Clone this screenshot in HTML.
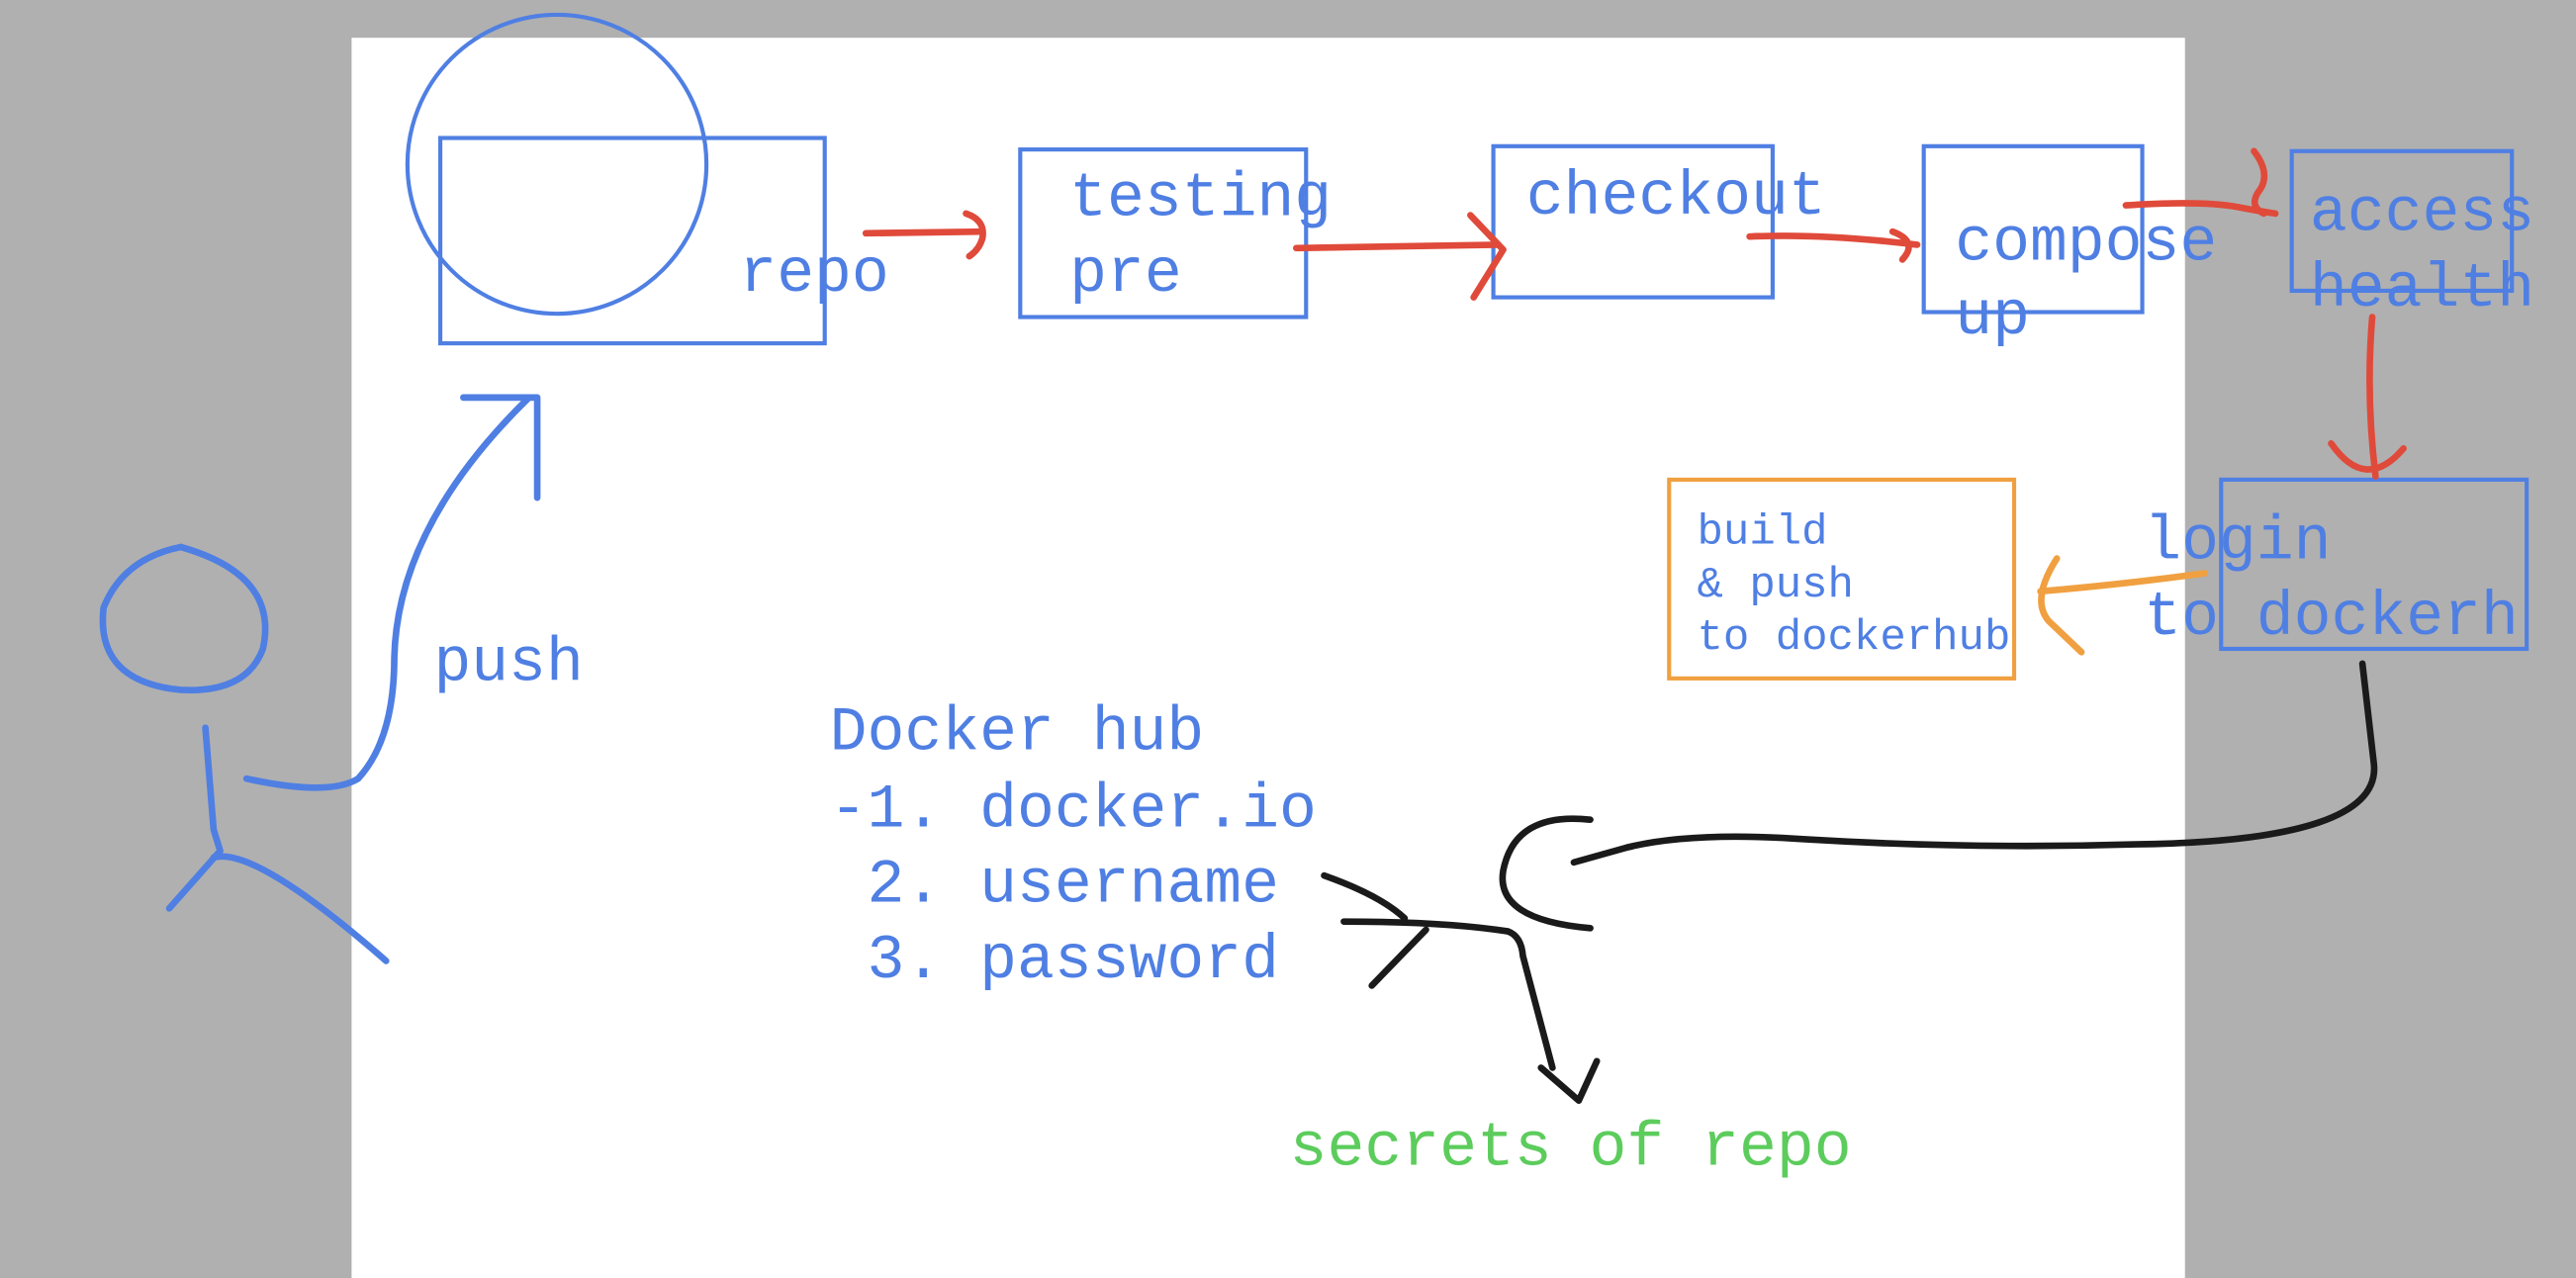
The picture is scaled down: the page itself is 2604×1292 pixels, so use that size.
<!DOCTYPE html>
<html><head><meta charset="utf-8"><style>
html,body{margin:0;padding:0;background:#b0b0b0;}
svg{display:block;}
text{font-family:"Liberation Mono",monospace;}
</style></head><body>
<svg width="2604" height="1292" viewBox="0 0 1568 778" xmlns="http://www.w3.org/2000/svg">
<rect x="0" y="0" width="1568" height="778" fill="#b0b0b0"/>
<rect x="214" y="23" width="1116" height="755" fill="#ffffff"/>
<g fill="none" stroke="#4f7fe3" stroke-width="2.5">
<circle cx="339" cy="100" r="91"/>
<rect x="268" y="84" width="234" height="125"/>
<rect x="621" y="91" width="174" height="102"/>
<rect x="909" y="89" width="170" height="92"/>
<rect x="1171" y="89" width="133" height="101"/>
<rect x="1395" y="92" width="134" height="85"/>
<rect x="1352" y="292" width="186" height="103"/>
</g>
<rect x="1016" y="292" width="210" height="121" fill="none" stroke="#f0a040" stroke-width="2.5"/>
<g fill="#4f7fe3" font-size="38">
<text x="450" y="177">repo</text>
<text x="651" y="131">testing</text>
<text x="651" y="177">pre</text>
<text x="929" y="130">checkout</text>
<text x="1190" y="158">compose</text>
<text x="1190" y="203">up</text>
<text x="1406" y="140">access</text>
<text x="1406" y="186">health</text>
<text x="1305" y="340">login</text>
<text x="1305" y="386">to dockerh</text>
<text x="264" y="414">push</text>
<text x="505" y="456">Docker hub</text>
<text x="505" y="503">-1. docker.io</text>
<text x="505" y="549" xml:space="preserve"> 2. username</text>
<text x="505" y="595" xml:space="preserve"> 3. password</text>
</g>
<g fill="#4f7fe3" font-size="26.5">
<text x="1033" y="331">build</text>
<text x="1033" y="363">&amp; push</text>
<text x="1033" y="395">to dockerhub</text>
</g>
<text x="785" y="709" font-size="38" fill="#5ccc5c">secrets of repo</text>
<g fill="none" stroke="#e04a3a" stroke-width="4" stroke-linecap="round" stroke-linejoin="round">
<path d="M527,142 L597,141"/>
<path d="M588,130 Q600,134 598,145 Q596,152 590,156"/>
<path d="M789,151 L912,149"/>
<path d="M895,131 L915,152 L897,181"/>
<path d="M1065,144 Q1110,142 1167,149"/>
<path d="M1152,141 Q1168,147 1158,158"/>
<path d="M1294,125 Q1340,122 1362,126 Q1372,128 1385,130"/>
<path d="M1372,92 Q1382,105 1376,115 Q1368,125 1378,130"/>
<path d="M1444,193 Q1440,240 1446,290"/>
<path d="M1419,270 Q1440,300 1463,273"/>
</g>
<g fill="none" stroke="#f0a040" stroke-width="4" stroke-linecap="round" stroke-linejoin="round">
<path d="M1342,349 Q1290,356 1242,360"/>
<path d="M1252,340 Q1236,365 1247,378 L1267,397"/>
</g>
<g fill="none" stroke="#1a1a1a" stroke-width="4" stroke-linecap="round" stroke-linejoin="round">
<path d="M1438,404 Q1442,440 1445,465 Q1450,512 1300,514 Q1200,517 1100,511 Q1030,506 990,516 L958,525"/>
<path d="M968,499 Q922,494 915,530 Q910,560 968,565"/>
<path d="M806,533 Q840,545 855,559"/>
<path d="M818,561 Q880,561 918,567"/>
<path d="M868,566 L835,600"/>
<path d="M918,567 Q926,570 927,582 L945,650"/>
<path d="M938,650 L961,670 L972,646"/>
</g>
<g fill="none" stroke="#4f7fe3" stroke-width="4" stroke-linecap="round" stroke-linejoin="round">
<path d="M110,333 Q75,340 63,370 Q58,415 110,420 Q150,422 160,395 Q170,350 110,333"/>
<path d="M125,443 L130,505 L134,518 L103,553"/>
<path d="M130,522 Q155,515 235,585"/>
<path d="M150,474 Q200,485 218,474 Q240,450 240,400 Q242,320 322,242"/>
<path d="M282,242 L327,242 L327,303"/>
</g>
</svg>
</body></html>
